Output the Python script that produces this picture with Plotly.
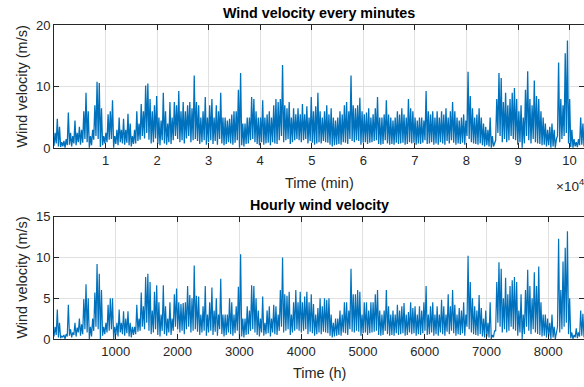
import plotly.graph_objects as go

# ---------------- data ----------------
# Local maxima (spikes) and minima between them, sampled uniformly along time.
minute_peaks = [
    2.5, 4.8, 3.5, 1.0, 1.2, 1.5, 5.8, 2.5, 2.0, 4.5, 2.5, 3.5, 3.0, 6.0, 9.0, 6.0, 2.0, 3.0, 7.0, 10.8,
    10.6, 6.5, 2.0, 2.5, 5.5, 6.0, 7.8, 2.0, 3.0, 5.0, 3.0, 4.8, 3.0, 5.6, 4.0, 2.0, 3.0, 6.0, 4.0, 7.2,
    6.0, 10.2, 10.5, 8.0, 6.0, 7.0, 8.5, 5.0, 4.5, 9.0, 6.0, 4.0, 7.5, 5.0, 7.5, 7.0, 9.3, 6.0, 7.5, 6.0,
    7.0, 7.5, 6.5, 11.8, 7.5, 7.0, 5.0, 6.0, 8.3, 5.0, 7.0, 8.0, 5.0, 7.0, 6.0, 9.0, 5.0, 5.0, 4.5, 4.8,
    5.5, 6.0, 6.0, 9.5, 12.2, 4.0, 4.0, 5.0, 5.0, 8.3, 8.0, 6.0, 5.0, 5.0, 7.8, 5.0, 5.5, 6.0, 5.0, 7.0,
    8.0, 7.5, 8.0, 13.5, 7.0, 6.5, 7.5, 5.0, 6.5, 5.5, 6.5, 5.5, 7.2, 5.5, 6.8, 5.0, 8.3, 6.0, 6.8, 9.0,
    6.0, 5.0, 6.0, 7.0, 5.5, 6.5, 5.0, 4.5, 5.0, 6.0, 5.5, 7.0, 7.5, 6.0, 11.8, 7.0, 6.5, 7.0, 8.2, 6.0,
    5.5, 5.8, 6.5, 5.0, 5.5, 6.5, 8.3, 5.0, 5.0, 5.5, 7.8, 5.5, 5.0, 4.5, 5.0, 6.0, 5.5, 6.5, 5.5, 5.0,
    8.0, 6.5, 6.0, 5.0, 4.5, 5.0, 5.0, 4.5, 9.3, 6.0, 5.5, 6.0, 5.0, 6.0, 5.0, 6.0, 5.5, 6.5, 5.0, 6.0,
    7.5, 6.0, 5.0, 4.5, 5.0, 5.5, 4.5, 12.4, 8.5, 6.5, 5.0, 5.5, 6.5, 5.0, 4.0, 3.5, 3.0, 5.0, 2.0, 1.0,
    8.0, 12.2, 11.4, 7.5, 9.0, 7.0, 8.0, 9.0, 9.8, 8.0, 6.0, 7.0, 5.0, 9.5, 12.5, 8.0, 7.0, 11.0, 8.5, 8.0,
    6.0, 5.0, 4.0, 3.0, 3.5, 4.0, 3.0, 1.5, 13.9, 8.0, 7.0, 15.4, 17.5, 8.0, 3.0, 1.5, 1.0, 1.5, 5.0, 4.0,
]
minute_troughs = [
    0.4, 0.8, 0.3, 0.2, 0.3, 0.1, 0.5, 0.6, 0.3, 0.8, 0.5, 1.0, 0.6, 0.9, 1.5, 1.0, 0.1, 0.5, 1.4, 2.0,
    1.5, 0.2, 0.5, 0.8, 1.0, 1.4, 1.5, 0.1, 0.7, 0.5, 1.0, 0.8, 0.6, 0.9, 0.5, 0.3, 0.7, 0.8, 1.2, 1.4,
    2.0, 1.6, 2.5, 1.4, 0.8, 1.0, 1.6, 0.7, 0.5, 1.3, 0.8, 0.6, 1.0, 0.7, 1.3, 2.0, 1.5, 1.0, 1.3, 0.8,
    1.6, 2.0, 1.0, 1.3, 1.5, 1.2, 0.7, 1.0, 1.3, 0.6, 1.0, 1.3, 0.7, 1.2, 0.6, 1.5, 0.8, 0.5, 0.7, 1.0,
    0.8, 0.6, 0.9, 1.3, 0.1, 0.5, 0.3, 0.7, 0.8, 1.3, 1.5, 1.0, 0.7, 0.5, 1.0, 0.6, 0.8, 0.9, 0.5, 1.0,
    0.8, 0.7, 1.3, 2.0, 1.0, 1.3, 1.5, 0.7, 1.0, 1.3, 1.5, 1.3, 1.0, 1.3, 1.5, 0.8, 1.2, 0.9, 0.6, 0.8,
    1.0, 0.8, 1.2, 1.0, 0.9, 0.6, 0.3, 0.5, 0.6, 0.7, 0.6, 1.0, 0.9, 0.7, 1.5, 1.2, 1.0, 1.3, 1.2, 0.6,
    0.9, 1.0, 0.7, 0.9, 1.0, 1.2, 1.3, 0.7, 0.6, 0.7, 1.3, 0.8, 0.6, 0.7, 0.6, 0.9, 0.7, 0.8, 0.9, 0.6,
    0.7, 1.0, 0.8, 0.9, 0.6, 0.8, 0.7, 0.9, 1.3, 0.7, 0.8, 1.0, 0.6, 0.8, 0.6, 1.0, 0.8, 0.6, 1.2, 0.8,
    1.3, 0.9, 0.6, 0.8, 0.7, 0.9, 0.6, 2.0, 1.5, 1.0, 0.8, 0.7, 0.6, 0.8, 0.5, 0.3, 0.5, 0.3, 0.1, 0.3,
    1.3, 2.5, 2.0, 1.0, 1.5, 1.0, 1.3, 2.0, 1.5, 1.3, 0.6, 1.0, 0.1, 0.8, 2.0, 1.3, 0.8, 1.5, 1.0, 0.8,
    0.7, 0.5, 0.6, 0.3, 0.5, 0.1, 0.3, 0.1, 2.0, 1.0, 1.5, 2.0, 2.5, 0.8, 0.2, 0.1, 0.3, 0.2, 0.5, 0.6, 0.3,
]
hourly_peaks = [
    1.5, 3.6, 2.0, 0.4, 0.5, 0.6, 4.2, 1.2, 0.8, 2.0, 1.4, 2.5, 1.8, 4.9, 6.7, 5.0, 1.5, 2.5, 5.7, 9.2,
    8.0, 6.0, 1.5, 2.0, 4.2, 5.0, 5.0, 1.5, 2.0, 3.6, 2.0, 3.4, 2.5, 3.4, 2.0, 1.5, 1.5, 4.2, 2.5, 5.7,
    4.0, 7.6, 8.0, 7.0, 3.5, 5.8, 6.6, 4.5, 3.0, 6.6, 4.0, 2.5, 4.5, 2.5, 5.5, 6.2, 4.5, 4.3, 4.4, 4.5,
    6.5, 5.4, 5.0, 9.0, 5.3, 5.2, 3.0, 4.0, 6.5, 3.0, 4.5, 6.3, 3.5, 5.0, 3.0, 7.4, 3.0, 3.0, 3.0, 5.0,
    4.5, 3.0, 4.0, 6.4, 10.4, 2.5, 2.5, 4.0, 3.5, 6.6, 6.5, 5.0, 3.5, 2.5, 5.2, 2.0, 3.5, 4.0, 2.5, 4.2,
    4.0, 3.0, 6.0, 10.0, 5.5, 5.3, 5.8, 3.0, 4.5, 6.0, 4.5, 5.8, 4.5, 5.2, 5.8, 4.5, 5.5, 4.3, 3.0, 3.8,
    5.0, 4.0, 5.0, 4.8, 5.0, 3.0, 2.0, 2.5, 2.5, 3.5, 3.0, 4.5, 4.5, 3.5, 8.6, 5.5, 5.5, 6.0, 5.8, 3.0,
    4.5, 4.5, 3.5, 4.5, 4.5, 5.5, 6.0, 3.5, 3.0, 3.5, 6.0, 4.0, 3.0, 3.5, 3.0, 4.2, 3.5, 4.0, 4.4, 3.0,
    3.3, 4.5, 3.8, 4.0, 3.0, 4.0, 3.5, 4.5, 6.5, 3.0, 4.0, 4.5, 3.0, 4.0, 3.0, 4.8, 4.0, 3.0, 5.5, 4.0,
    6.0, 4.2, 3.0, 3.8, 3.5, 4.5, 3.0, 10.2, 7.0, 5.0, 4.0, 3.5, 5.4, 3.8, 2.5, 3.5, 2.0, 4.5, 0.5, 1.0,
    7.0, 9.4, 8.6, 5.0, 7.5, 5.5, 6.5, 7.2, 7.6, 7.0, 3.5, 5.5, 3.0, 6.0, 8.5, 6.5, 5.0, 8.2, 6.5, 8.9,
    4.5, 3.0, 3.0, 2.5, 2.0, 3.0, 1.5, 0.8, 12.3, 6.0, 9.5, 11.2, 13.2, 5.0, 0.8, 0.5, 1.3, 0.8, 3.5, 3.1,
]
hourly_troughs = [
    0.3, 0.5, 0.2, 0.1, 0.2, 0.0, 0.3, 0.4, 0.2, 0.5, 0.3, 0.8, 0.4, 0.6, 1.2, 0.8, 0.0, 0.3, 1.0, 1.5,
    1.2, 0.0, 0.4, 0.6, 0.8, 1.0, 1.2, 0.0, 0.5, 0.3, 0.8, 0.6, 0.4, 0.7, 0.3, 0.2, 0.5, 0.6, 0.9, 1.0,
    1.5, 1.2, 2.0, 1.0, 0.6, 0.8, 1.2, 0.5, 0.3, 1.0, 0.6, 0.4, 0.8, 0.5, 1.0, 1.5, 1.2, 0.8, 1.0, 0.6,
    1.2, 1.5, 0.8, 1.0, 1.2, 0.9, 0.5, 0.8, 1.0, 0.4, 0.8, 1.0, 0.5, 0.9, 0.4, 1.2, 0.6, 0.3, 0.5, 0.8,
    0.6, 0.4, 0.7, 1.0, 0.0, 0.3, 0.2, 0.5, 0.6, 1.0, 1.2, 0.8, 0.5, 0.3, 0.8, 0.4, 0.6, 0.7, 0.3, 0.8,
    0.6, 0.5, 1.0, 1.5, 0.8, 1.0, 1.2, 0.5, 0.8, 1.0, 1.2, 1.0, 0.8, 1.0, 1.2, 0.6, 0.9, 0.7, 0.4, 0.6,
    0.8, 0.6, 0.9, 0.8, 0.7, 0.4, 0.2, 0.3, 0.4, 0.5, 0.4, 0.8, 0.7, 0.5, 1.2, 0.9, 0.8, 1.0, 0.9, 0.4,
    0.7, 0.8, 0.5, 0.7, 0.8, 0.9, 1.0, 0.5, 0.4, 0.5, 1.0, 0.6, 0.4, 0.5, 0.4, 0.7, 0.5, 0.6, 0.7, 0.4,
    0.5, 0.8, 0.6, 0.7, 0.4, 0.6, 0.5, 0.7, 1.0, 0.5, 0.6, 0.8, 0.4, 0.6, 0.4, 0.8, 0.6, 0.4, 0.9, 0.6,
    1.0, 0.7, 0.4, 0.6, 0.5, 0.7, 0.4, 1.5, 1.2, 0.8, 0.6, 0.5, 0.4, 0.6, 0.3, 0.2, 0.3, 0.2, 0.0, 0.2,
    1.0, 2.0, 1.5, 0.8, 1.2, 0.8, 1.0, 1.5, 1.2, 1.0, 0.4, 0.8, 0.0, 0.6, 1.5, 1.0, 0.6, 1.2, 0.8, 0.6,
    0.5, 0.3, 0.4, 0.2, 0.3, 0.0, 0.2, 0.0, 1.5, 0.8, 1.2, 1.5, 2.0, 0.6, 0.1, 0.0, 0.2, 0.1, 0.3, 0.4, 0.2,
]
MINUTE_END = 102800   # last minute shown
HOUR_END = 8578       # last hour shown
minute_ticks = [10000 * i for i in range(1, 11)]
minute_ticktext = [str(i) for i in range(1, 11)]
hour_ticks = [1000 * i for i in range(1, 9)]
minute_yticks = [0, 10, 20]
hour_yticks = [0, 5, 10, 15]


def build(peaks, troughs, end):
    n = len(peaks)
    step = end / n
    xs, ys = [], []
    for k in range(n):
        xs.append(k * step)
        ys.append(troughs[k])
        xs.append((k + 0.5) * step)
        ys.append(peaks[k])
    xs.append(end)
    ys.append(troughs[n])
    return xs, ys


mx, my = build(minute_peaks, minute_troughs, MINUTE_END)
hx, hy = build(hourly_peaks, hourly_troughs, HOUR_END)

LINE = "#0072BD"
AX = "#262626"
FONT = "Liberation Sans, Arial, sans-serif"

fig = go.Figure()
fig.add_trace(go.Scatter(x=mx, y=my, mode="lines", line=dict(color=LINE, width=1.3),
                         xaxis="x", yaxis="y", showlegend=False, hoverinfo="skip"))
fig.add_trace(go.Scatter(x=hx, y=hy, mode="lines", line=dict(color=LINE, width=1.2),
                         xaxis="x2", yaxis="y2", showlegend=False, hoverinfo="skip"))

common = dict(showline=True, linecolor=AX, linewidth=1, mirror="ticks", ticks="inside",
              ticklen=5, tickcolor=AX, tickwidth=1, showgrid=True, gridcolor="#e0e0e0",
              gridwidth=1, zeroline=False,
              tickfont=dict(family=FONT, size=13, color=AX))

TOP_LO = 0.6073
BOT_HI = 0.3895

fig.update_layout(
    width=584, height=387,
    margin=dict(l=54, r=0, t=25, b=48),
    paper_bgcolor="white", plot_bgcolor="white",
    xaxis=dict(domain=[0, 1], anchor="y", range=[0, MINUTE_END],
               tickvals=minute_ticks, ticktext=minute_ticktext, **common),
    yaxis=dict(domain=[TOP_LO, 1], anchor="x", range=[0, 20], tickvals=minute_yticks, **common),
    xaxis2=dict(domain=[0, 1], anchor="y2", range=[0, HOUR_END], tickvals=hour_ticks, **common),
    yaxis2=dict(domain=[0, BOT_HI], anchor="x2", range=[0, 15], tickvals=hour_yticks, **common),
)

lab = dict(family=FONT, size=14.5, color=AX)
ttl = dict(family=FONT, size=14.3, color="black")
ann = [
    dict(text="<b>Wind velocity every minutes</b>", x=0.5, y=1, xref="paper", yref="paper",
         xanchor="center", yanchor="middle", yshift=12, showarrow=False, font=ttl),
    dict(text="<b>Hourly wind velocity</b>", x=0.5, y=BOT_HI, xref="paper", yref="paper",
         xanchor="center", yanchor="middle", yshift=12, showarrow=False, font=ttl),
    dict(text="Time (min)", x=0.5, y=TOP_LO, xref="paper", yref="paper",
         xanchor="center", yanchor="middle", yshift=-35, showarrow=False, font=lab),
    dict(text="×10<sup>4</sup>", x=1, y=TOP_LO, xref="paper", yref="paper",
         xanchor="right", yanchor="middle", yshift=-37, xshift=2, showarrow=False,
         font=dict(family=FONT, size=13.5, color=AX)),
    dict(text="Time (h)", x=0.5, y=0, xref="paper", yref="paper",
         xanchor="center", yanchor="middle", yshift=-34, showarrow=False, font=lab),
    dict(text="Wind velocity (m/s)", x=0, y=(TOP_LO + 1) / 2, xref="paper", yref="paper",
         xanchor="center", yanchor="middle", xshift=-32, textangle=-90, showarrow=False, font=lab),
    dict(text="Wind velocity (m/s)", x=0, y=BOT_HI / 2, xref="paper", yref="paper",
         xanchor="center", yanchor="middle", xshift=-32, textangle=-90, showarrow=False, font=lab),
]
fig.update_layout(annotations=ann)

fig.write_html("out.html")
